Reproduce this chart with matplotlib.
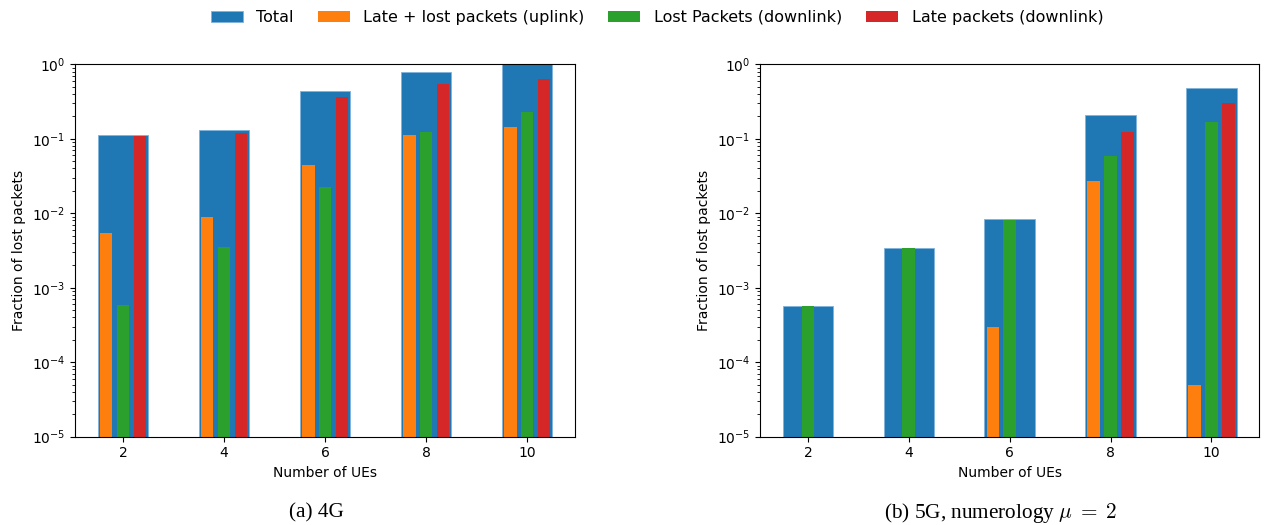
import numpy as np
import matplotlib
matplotlib.use('Agg')
import matplotlib.pyplot as plt

ues = [2, 4, 6, 8, 10]
labels = ['Total', 'Late + lost packets (uplink)', 'Lost Packets (downlink)', 'Late packets (downlink)']

# 4G
total_4g = [0.112, 0.133, 0.434, 0.789, 1.0]
uplink_4g = [0.0055, 0.0088, 0.0445, 0.1135, 0.143]
lost_dl_4g = [0.00059, 0.00356, 0.0225, 0.123, 0.231]
late_dl_4g = [0.109, 0.121, 0.36, 0.539, 0.635]

# 5G, numerology 2
total_5g = [0.000565, 0.00346, 0.0083, 0.211, 0.476]
uplink_5g = [0.0, 0.0, 0.0003, 0.0271, 0.0000494]
lost_dl_5g = [0.000565, 0.00346, 0.0082, 0.0588, 0.170]
late_dl_5g = [0.0, 0.0, 0.0, 0.123, 0.305]

def draw(ax, total, uplink, lost_dl, late_dl):
    x = np.array(ues, dtype=float)
    ax.bar(x, total, width=1.0, color='tab:blue', edgecolor='#7fb2dc', linewidth=0.6, label=labels[0])
    ax.bar(x - 1/3, uplink, width=0.25, color='tab:orange', label=labels[1])
    ax.bar(x, lost_dl, width=0.25, color='tab:green', label=labels[2])
    ax.bar(x + 1/3, late_dl, width=0.25, color='tab:red', label=labels[3])
    ax.set_yscale('log')
    ax.set_ylim(1e-5, 1)
    ax.set_xticks(ues)
    ax.set_xlabel('Number of UEs')
    ax.set_ylabel('Fraction of lost packets')

fig = plt.figure(figsize=(12.65, 5.25), dpi=100)
ax1 = fig.add_axes([0.0593, 0.1682, 0.3953, 0.7093])
ax2 = fig.add_axes([0.6008, 0.1682, 0.3947, 0.7093])

draw(ax1, total_4g, uplink_4g, lost_dl_4g, late_dl_4g)
draw(ax2, total_5g, uplink_5g, lost_dl_5g, late_dl_5g)

handles, labs = ax1.get_legend_handles_labels()
fig.legend(handles, labs, loc='center', ncol=4, frameon=False,
           bbox_to_anchor=(0.5193, 0.967), fontsize=11.5,
           handlelength=2.0, handletextpad=0.85, columnspacing=1.5)

fig.text(0.250, 0.0135, '(a) 4G', ha='center', va='baseline',
         family='Liberation Serif', fontsize=15.3)
fig.text(0.791, 0.0135, r'(b) 5G, numerology $\mu\;=\;2$', ha='center', va='baseline',
         family='Liberation Serif', fontsize=15.3, math_fontfamily='cm')

plt.savefig('out.png', dpi=100)
plt.close()
